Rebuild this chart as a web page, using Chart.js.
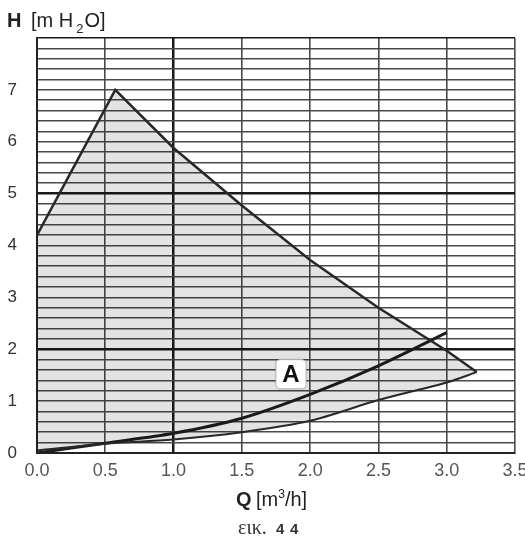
<!DOCTYPE html>
<html>
<head>
<meta charset="utf-8">
<script src="https://cdn.jsdelivr.net/npm/chart.js@4/dist/chart.umd.min.js"></script>
<style>
  html, body { margin:0; padding:0; background:#fff; }
  #wrap { width:525px; height:537px; }
</style>
</head>
<body>
<div id="wrap"><canvas id="chart" width="525" height="537"></canvas></div>
<script>
// operating field upper edge (max curve)
const upperQ = [0.0, 0.573, 1.0, 1.5, 2.0, 2.5, 3.0, 3.22];
const upperH = [4.2, 7.0, 5.88, 4.77, 3.72, 2.8, 1.97, 1.56];
// lower edge (thin system curve)
const lowerQ = [0.0, 0.5, 1.0, 1.5, 2.0, 2.5, 3.0, 3.22];
const lowerH = [0.05, 0.18, 0.26, 0.4, 0.62, 1.02, 1.36, 1.56];
// curve A
const curveAQ = [0.0, 0.5, 1.0, 1.5, 2.0, 2.5, 3.0];
const curveAH = [0.0, 0.19, 0.38, 0.67, 1.13, 1.68, 2.32];
const labelA = { x: 1.86, y: 1.51, text: 'A' };

const xTicks = [0.0, 0.5, 1.0, 1.5, 2.0, 2.5, 3.0, 3.5];
const yLabels = [0, 1, 2, 3, 4, 5, 6, 7];

const pts = (qs, hs) => qs.map((q, i) => ({ x: q, y: hs[i] }));
const shape = pts(upperQ, upperH).concat(pts(lowerQ, lowerH).reverse());

const SANS = '"Liberation Sans", Arial, sans-serif';

const textPlugin = {
  id: 'texts',
  afterDatasetsDraw(chart) {
    const c = chart.ctx;
    const sx = chart.scales.x, sy = chart.scales.y;
    // label A box
    const px = sx.getPixelForValue(labelA.x), py = sy.getPixelForValue(labelA.y);
    c.save();
    c.shadowColor = 'rgba(0,0,0,0.25)';
    c.shadowBlur = 3;
    c.fillStyle = '#fff';
    c.strokeStyle = '#bbb';
    c.lineWidth = 1;
    c.beginPath();
    c.roundRect(px - 15, py - 15, 30, 29, 4);
    c.fill();
    c.shadowColor = 'transparent';
    c.stroke();
    c.fillStyle = '#111';
    c.font = 'bold 24px ' + SANS;
    c.textAlign = 'center';
    c.textBaseline = 'middle';
    c.fillText(labelA.text, px, py + 1);
    c.restore();
  },
  afterDraw(chart) {
    const c = chart.ctx;
    c.save();
    c.fillStyle = '#222';
    c.textBaseline = 'alphabetic';
    c.textAlign = 'left';
    // y title: H [m H2O]
    c.font = 'bold 20px ' + SANS;
    c.fillText('H', 7, 27);
    let x = 31;
    c.font = '20px ' + SANS;
    c.fillText('[m H', x, 27); x += c.measureText('[m H').width + 3;
    c.font = '13px ' + SANS;
    c.fillText('2', x, 33); x += c.measureText('2').width + 1;
    c.font = '20px ' + SANS;
    c.fillText('O]', x, 27);
    // x title: Q [m3/h]
    c.font = 'bold 20px ' + SANS;
    c.fillText('Q', 236, 506);
    x = 256;
    c.font = '20px ' + SANS;
    c.fillText('[m', x, 506); x += c.measureText('[m').width;
    c.font = '12px ' + SANS;
    c.fillText('3', x, 498); x += c.measureText('3').width;
    c.font = '20px ' + SANS;
    c.fillText('/h]', x, 506);
    // caption
    c.fillStyle = '#333';
    c.font = '20px "Liberation Serif", "DejaVu Serif", serif';
    c.fillText('εικ.', 238, 534);
    c.font = 'bold 15px ' + SANS;
    c.fillText('4', 276, 534);
    c.fillText('4', 290, 534);
    c.restore();
  }
};

new Chart(document.getElementById('chart'), {
  type: 'scatter',
  data: {
    datasets: [
      { data: shape, showLine: true, fill: 'shape', backgroundColor: 'rgba(0,0,0,0.11)',
        borderWidth: 0, pointRadius: 0, tension: 0 },
      { data: pts(upperQ, upperH), showLine: true, borderColor: '#2b2b2b', borderWidth: 2.5,
        pointRadius: 0, tension: 0 },
      { data: pts(lowerQ, lowerH), showLine: true, borderColor: '#2b2b2b', borderWidth: 2,
        pointRadius: 0, tension: 0.3 },
      { data: pts(curveAQ, curveAH), showLine: true, borderColor: '#1e1e1e', borderWidth: 3,
        pointRadius: 0, tension: 0.3 }
    ]
  },
  options: {
    responsive: false,
    animation: false,
    layout: { padding: { top: 38, right: 10, left: 0, bottom: 0 } },
    plugins: { legend: { display: false }, tooltip: { enabled: false } },
    scales: {
      x: {
        type: 'linear', min: 0, max: 3.5,
        afterFit(s) { s.height = 84; s.paddingLeft = 0; s.paddingRight = 0; },
        afterBuildTicks(s) { s.ticks = xTicks.map(v => ({ value: v })); },
        border: { display: true, color: '#222', width: 2 },
        grid: {
          drawTicks: false,
          color: ctx => (ctx.tick && ctx.tick.value === 1) ? '#1a1a1a' : '#4a4a4a',
          lineWidth: ctx => (ctx.tick && ctx.tick.value === 1) ? 2.5 : 1.6
        },
        ticks: {
          autoSkip: false, padding: 7, color: '#555',
          font: { size: 18, family: SANS },
          callback: v => Number(v).toFixed(1)
        }
      },
      y: {
        type: 'linear', min: 0, max: 8,
        afterFit(s) { s.width = 37; s.paddingTop = 0; s.paddingBottom = 0; },
        border: { display: true, color: '#222', width: 2 },
        grid: {
          drawTicks: false,
          color: ctx => {
            const v = ctx.tick ? ctx.tick.value : 0;
            return (Math.abs(v - 2) < 1e-6 || Math.abs(v - 5) < 1e-6 || Math.abs(v - 8) < 1e-6) ? '#1a1a1a' : '#4a4a4a';
          },
          lineWidth: ctx => {
            const v = ctx.tick ? ctx.tick.value : 0;
            return (Math.abs(v - 2) < 1e-6 || Math.abs(v - 5) < 1e-6) ? 2.6 : 1.6;
          }
        },
        ticks: {
          stepSize: 0.2, autoSkip: false, padding: 20, color: '#333',
          font: { size: 17, family: SANS },
          callback: v => {
            const r = Math.round(v);
            return (Math.abs(v - r) < 1e-6 && yLabels.includes(r)) ? String(r) : '';
          }
        }
      }
    }
  },
  plugins: [textPlugin]
});
</script>
</body>
</html>
